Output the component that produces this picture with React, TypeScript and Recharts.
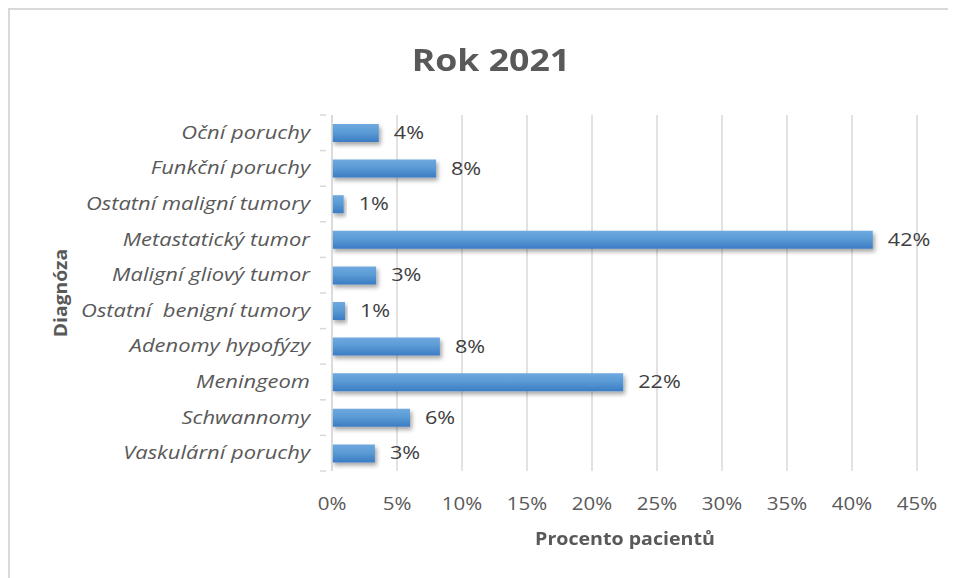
import React from "react";
import { BarChart, Bar, XAxis, YAxis, CartesianGrid, LabelList } from "recharts";

const categories = [
  "Oční poruchy",
  "Funkční poruchy",
  "Ostatní maligní tumory",
  "Metastatický tumor",
  "Maligní gliový tumor",
  "Ostatní  benigní tumory",
  "Adenomy hypofýzy",
  "Meningeom",
  "Schwannomy",
  "Vaskulární poruchy",
];
const percentValues = [3.6, 8.0, 0.9, 41.6, 3.4, 1.0, 8.3, 22.4, 6.0, 3.3];
const xTicks = [0, 5, 10, 15, 20, 25, 30, 35, 40, 45];

const data = categories.map((name, i) => ({ name, value: percentValues[i] }));

const FONT = "'Open Sans', Lato, sans-serif";
const TEXT = "#595959";
const GRID = "#d9d9d9";
const Y_MARGIN = 16;

const YTick = (props: any) => {
  const { x, y, payload, index } = props;
  const band = 35.6;
  const axisX = x + Y_MARGIN;
  return (
    <g>
      <line x1={axisX - 6} x2={axisX} y1={y - band / 2} y2={y - band / 2} stroke={GRID} strokeWidth={1.5} />
      {index === categories.length - 1 && (
        <line x1={axisX - 6} x2={axisX} y1={y + band / 2} y2={y + band / 2} stroke={GRID} strokeWidth={1.5} />
      )}
      <text
        transform={`translate(${x},${y + 6}) scale(1.22,1)`}
        textAnchor="end"
        fill={TEXT}
        fontSize={18}
        fontStyle="italic"
        fontFamily={FONT}
        style={{ whiteSpace: "pre" }}
      >
        {payload.value}
      </text>
    </g>
  );
};

const XTick = (props: any) => {
  const { x, y, payload } = props;
  return (
    <text
      transform={`translate(${x},${y}) scale(1.14,1)`}
      dy="0.71em"
      textAnchor="middle"
      fill={TEXT}
      fontSize={18}
      fontFamily={FONT}
    >
      {`${payload.value}%`}
    </text>
  );
};

const ValueLabel = (props: any) => {
  const { x, y, width, height, value } = props;
  return (
    <text
      transform={`translate(${x + width + 15},${y + height / 2 + 6}) scale(1.2,1)`}
      textAnchor="start"
      fill="#404040"
      fontSize={18}
      fontFamily={FONT}
    >
      {`${Math.round(value)}%`}
    </text>
  );
};

export default function App() {
  return (
    <div
      style={{
        position: "relative",
        width: 948,
        height: 570,
        borderTop: `2px solid ${GRID}`,
        borderLeft: `2px solid ${GRID}`,
        boxSizing: "border-box",
        fontFamily: FONT,
      }}
    >
      <div
        style={{
          position: "absolute",
          left: 0,
          width: 962,
          top: 28,
          textAlign: "center",
          fontSize: 31,
          fontWeight: 700,
          color: TEXT,
          fontFamily: FONT,
          transform: "scale(1.15,1)",
        }}
      >
        Rok 2021
      </div>
      <div
        style={{
          position: "absolute",
          left: 415,
          width: 400,
          top: 516,
          height: 24,
          lineHeight: "24px",
          textAlign: "center",
          fontSize: 17.5,
          fontWeight: 700,
          color: TEXT,
          transform: "scale(1.12,1)",
        }}
      >
        Procento pacientů
      </div>
      <div
        style={{
          position: "absolute",
          left: -50,
          width: 200,
          top: 271,
          height: 24,
          lineHeight: "24px",
          textAlign: "center",
          fontSize: 18,
          fontWeight: 700,
          color: TEXT,
          transform: "rotate(-90deg) scale(1.07,1)",
        }}
      >
        Diagnóza
      </div>
      <div style={{ position: "absolute", left: -2, top: -2 }}>
        <BarChart
          width={940}
          height={562}
          data={data}
          layout="vertical"
          margin={{ top: 107, right: 31, bottom: 0, left: 0 }}
          barCategoryGap={0}
        >
          <defs>
            <linearGradient id="barGrad" x1="0" y1="0" x2="0" y2="1">
              <stop offset="0%" stopColor="#6fa9e0" />
              <stop offset="45%" stopColor="#5b9bd5" />
              <stop offset="100%" stopColor="#3b7cc4" />
            </linearGradient>
            <filter id="barShadow" x="-10%" y="-30%" width="130%" height="190%">
              <feDropShadow dx="2" dy="3" stdDeviation="2" floodColor="#000" floodOpacity="0.35" />
            </filter>
          </defs>
          <CartesianGrid horizontal={false} stroke={GRID} strokeWidth={1.5} />
          <XAxis
            type="number"
            domain={[0, 45]}
            ticks={xTicks}
            axisLine={false}
            tickLine={false}
            tick={<XTick />}
            tickMargin={20}
            height={99}
            interval={0}
          />
          <YAxis
            type="category"
            dataKey="name"
            width={324}
            axisLine={{ stroke: GRID, strokeWidth: 1.5 }}
            tickLine={false}
            tick={<YTick />}
            tickMargin={Y_MARGIN}
            interval={0}
          />
          <Bar
            dataKey="value"
            fill="url(#barGrad)"
            barSize={18}
            filter="url(#barShadow)"
            isAnimationActive={false}
          >
            <LabelList dataKey="value" content={<ValueLabel />} />
          </Bar>
        </BarChart>
      </div>
    </div>
  );
}
